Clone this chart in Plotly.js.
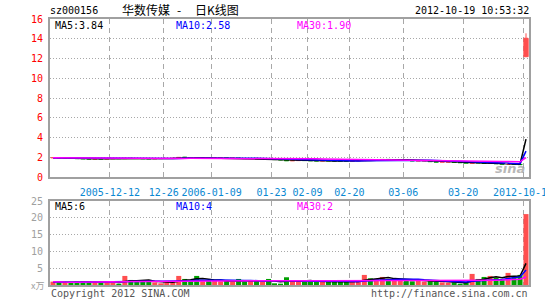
<!DOCTYPE html>
<html>
<head>
<meta charset="utf-8">
<script src="https://cdn.plot.ly/plotly-3.0.1.min.js"></script>
<style>html,body{margin:0;padding:0;background:#fff;}#chart{width:545px;height:300px;}</style>
</head>
<body>
<div id="chart"></div>
<script>
// ---- data ----
const dayIndex = [];
for (let i = 0; i < 80; i++) dayIndex.push(i);

const openPx  = [1.94,1.96,1.92,1.93,1.90,1.86,1.84,1.82,1.84,1.83,
                 1.85,1.87,1.86,1.90,1.88,1.87,1.85,1.84,1.86,1.87,
                 1.89,1.91,2.01,1.97,1.96,1.91,1.93,1.91,1.92,1.93,
                 1.91,1.92,1.88,1.86,1.88,1.86,1.87,1.80,1.76,1.72,
                 1.64,1.66,1.68,1.66,1.64,1.62,1.64,1.63,1.62,1.61,
                 1.60,1.64,1.66,1.74,1.70,1.73,1.78,1.74,1.75,1.76,
                 1.70,1.62,1.63,1.64,1.55,1.50,1.51,1.52,1.47,1.44,
                 1.38,1.44,1.45,1.37,1.40,1.34,1.29,1.33,1.28,12.18];
const highPx  = [1.97,1.97,1.95,1.93,1.90,1.87,1.85,1.85,1.85,1.86,
                 1.88,1.88,1.92,1.91,1.89,1.88,1.86,1.87,1.88,1.90,
                 1.92,2.02,2.03,1.98,1.97,1.94,1.94,1.93,1.94,1.94,
                 1.93,1.92,1.89,1.89,1.89,1.88,1.87,1.80,1.76,1.72,
                 1.68,1.69,1.69,1.67,1.65,1.65,1.65,1.64,1.63,1.62,
                 1.65,1.67,1.76,1.75,1.74,1.79,1.78,1.76,1.77,1.76,
                 1.70,1.64,1.65,1.64,1.55,1.52,1.53,1.52,1.47,1.44,
                 1.46,1.47,1.45,1.42,1.40,1.34,1.35,1.33,1.28,14.55];
const lowPx   = [1.93,1.94,1.91,1.89,1.85,1.83,1.81,1.81,1.82,1.82,
                 1.84,1.85,1.85,1.87,1.86,1.84,1.83,1.83,1.85,1.86,
                 1.88,1.90,1.96,1.94,1.90,1.90,1.90,1.90,1.91,1.90,
                 1.90,1.87,1.85,1.85,1.85,1.85,1.79,1.75,1.71,1.62,
                 1.63,1.65,1.65,1.63,1.61,1.61,1.62,1.61,1.60,1.59,
                 1.59,1.63,1.65,1.69,1.69,1.72,1.73,1.72,1.74,1.69,
                 1.61,1.60,1.62,1.54,1.49,1.48,1.50,1.46,1.43,1.39,
                 1.37,1.42,1.37,1.36,1.33,1.29,1.28,1.27,1.24,12.18];
const closePx = [1.96,1.95,1.93,1.90,1.86,1.84,1.82,1.84,1.83,1.85,
                 1.87,1.86,1.90,1.88,1.87,1.85,1.84,1.86,1.87,1.89,
                 1.91,1.99,1.97,1.95,1.91,1.93,1.91,1.92,1.93,1.91,
                 1.92,1.88,1.86,1.88,1.86,1.87,1.80,1.76,1.72,1.64,
                 1.66,1.68,1.66,1.64,1.62,1.64,1.63,1.62,1.61,1.60,
                 1.64,1.66,1.74,1.70,1.73,1.78,1.74,1.75,1.76,1.70,
                 1.62,1.63,1.64,1.55,1.50,1.51,1.52,1.47,1.44,1.40,
                 1.42,1.43,1.38,1.40,1.34,1.30,1.33,1.28,1.25,14.05];
// volume, in 万 (10k lots)
const volume  = [1.0,0.7,0.9,0.8,1.0,1.2,1.2,1.0,0.8,0.9,
                 0.8,0.4,2.7,1.5,1.0,1.4,0.9,0.8,0.5,1.0,
                 0.9,2.7,1.8,1.3,2.7,1.1,1.3,1.2,1.1,1.2,
                 1.0,1.8,1.0,1.3,1.2,1.0,1.8,0.5,0.4,2.3,
                 1.4,1.0,1.0,1.1,1.0,1.0,0.9,0.9,1.1,0.9,
                 1.2,1.0,3.0,2.0,1.8,2.4,1.8,1.5,1.4,1.2,
                 1.1,1.2,1.0,1.5,0.9,0.8,0.7,0.8,0.4,0.6,
                 3.3,1.8,2.4,2.7,2.2,1.8,3.6,2.7,3.0,21.1];

const tickIdx    = [10,19,27,37,43,50,59,69,79];
const tickLabels = ['2005-12-12','12-26','2006-01-09','01-23','02-09','02-20','03-06','03-20','2012-10-19'];
const priceTicks = [0,2,4,6,8,10,12,14,16];
const volTicks   = [5,10,15,20,25];

const stockCode = 'sz000156';
const titleParts = ['华数传媒', '-', '日K线图'];
const stamp = '2012-10-19 10:53:32';
const priceMA = ['MA5:3.84','MA10:2.58','MA30:1.90'];
const volMA   = ['MA5:6','MA10:4','MA30:2'];

// ---- helpers ----
function movingAvg(arr, n) {
  return arr.map((_, i) => {
    const s = Math.max(0, i - n + 1);
    const seg = arr.slice(s, i + 1);
    return seg.reduce((a, b) => a + b, 0) / seg.length;
  });
}
const RED = '#ff4f4f', GREEN = '#00a000';
const isUp = closePx.map((c, i) => c >= openPx[i]);
const dayColors = isUp.map(u => u ? RED : GREEN);
const maColors = ['#000000', '#0000ff', '#ff00ff'];
const maN = [5, 10, 30];

const traces = [];
// wicks (high-low), one trace per colour
[true, false].forEach(up => {
  const wx = [], wy = [];
  dayIndex.forEach(i => {
    if (isUp[i] === up) { wx.push(i, i, null); wy.push(lowPx[i], highPx[i], null); }
  });
  traces.push({type: 'scatter', mode: 'lines', x: wx, y: wy, xaxis: 'x', yaxis: 'y',
    hoverinfo: 'skip', line: {color: up ? RED : GREEN, width: 1}});
});
// bodies (open-close)
traces.push({
  type: 'bar', x: dayIndex, base: openPx.map((o, i) => Math.min(o, closePx[i])),
  y: openPx.map((o, i) => Math.abs(closePx[i] - o)), width: 0.72,
  xaxis: 'x', yaxis: 'y', hoverinfo: 'skip',
  marker: {color: dayColors, line: {color: dayColors, width: 1}}
});
maN.forEach((n, k) => traces.push({
  type: 'scatter', mode: 'lines', x: dayIndex, y: movingAvg(closePx, n),
  xaxis: 'x', yaxis: 'y', hoverinfo: 'skip', line: {color: maColors[k], width: 1.5}
}));
traces.push({
  type: 'bar', x: dayIndex, y: volume, width: 0.84, xaxis: 'x2', yaxis: 'y2', hoverinfo: 'skip',
  marker: {color: dayColors, line: {width: 0}}
});
maN.forEach((n, k) => traces.push({
  type: 'scatter', mode: 'lines', x: dayIndex, y: movingAvg(volume, n),
  xaxis: 'x2', yaxis: 'y2', hoverinfo: 'skip', line: {color: maColors[k], width: 1.5}
}));

const W = 545, H = 300;
const px = v => v / W, py = v => 1 - v / H;
const MONO = 'DejaVu Sans Mono';
const xr = [-0.5, 79.5];
const tickPos = tickIdx.map(i => i - 0.5);
const frame = {showline: true, mirror: true, linecolor: '#a0a0a0', linewidth: 2, zeroline: false, fixedrange: true};

const layout = {
  width: W, height: H, margin: {l: 0, r: 0, t: 0, b: 0},
  paper_bgcolor: '#ffffff', plot_bgcolor: '#ffffff', showlegend: false,
  font: {family: MONO, size: 10, color: '#000'},
  barmode: 'overlay',
  xaxis: Object.assign({}, frame, {
    domain: [px(50), px(529)], anchor: 'y', range: xr,
    tickmode: 'array', tickvals: tickPos, ticktext: tickLabels, ticks: '', ticklabelstandoff: 5,
    ticklabeloverflow: 'allow',
    tickfont: {family: MONO, size: 10, color: '#0a88d2'},
    showgrid: true, gridcolor: '#a8a8a8', griddash: '5px,4px', gridwidth: 1
  }),
  xaxis2: Object.assign({}, frame, {
    domain: [px(50), px(529)], anchor: 'y2', matches: 'x', range: xr,
    tickmode: 'array', tickvals: tickPos, showticklabels: false, ticks: '',
    showgrid: true, gridcolor: '#a8a8a8', griddash: '5px,4px', gridwidth: 1
  }),
  yaxis: Object.assign({}, frame, {
    domain: [py(177), py(19)], anchor: 'x', range: [0, 16],
    tickmode: 'array', tickvals: priceTicks, ticks: '', ticklabelstandoff: 3,
    tickfont: {family: MONO, size: 10, color: '#ff0000'},
    showgrid: true, gridcolor: '#a8a8a8', griddash: '1px,2px', gridwidth: 1
  }),
  yaxis2: Object.assign({}, frame, {
    domain: [py(285), py(201)], anchor: 'x2', range: [0, 25],
    tickmode: 'array', tickvals: volTicks, ticks: '', ticklabelstandoff: 3,
    tickfont: {family: MONO, size: 10, color: '#a0a0a0'},
    showgrid: true, gridcolor: '#a8a8a8', griddash: '1px,2px', gridwidth: 1
  }),
  annotations: []
};

function txt(t, x, y, color, anchor, fam, size) {
  layout.annotations.push({
    text: t, x: px(x), y: py(y), xref: 'paper', yref: 'paper', showarrow: false,
    xanchor: anchor, yanchor: 'middle', font: {family: fam || MONO, size: size || 10, color: color}
  });
  return layout.annotations[layout.annotations.length - 1];
}
txt(stockCode, 48, 11, '#000', 'left');
const CJK = 'Noto Sans CJK SC';
txt(titleParts[0], 120, 10, '#000', 'left', CJK, 12);
txt(titleParts[1], 179, 10, '#000', 'center', CJK, 12);
txt(titleParts[2], 193, 10, '#000', 'left', CJK, 12);
txt(stamp, 531, 11, '#000', 'right');
const maX = [53, 174, 295];
priceMA.forEach((t, k) => txt(t, maX[k], 25, maColors[k], 'left'));
volMA.forEach((t, k) => txt(t, maX[k], 207, maColors[k], 'left'));
txt('x万', 29, 285, '#a0a0a0', 'left', CJK, 9);
txt('Copyright 2012 SINA.COM', 49, 293, '#555555', 'left');
txt('http://finance.sina.com.cn', 530, 293, '#555555', 'right');
const wm = txt('sina', 510, 168, 'rgba(160,160,160,0.75)', 'center', 'DejaVu Sans', 13);
wm.font.weight = 'bold';
wm.font.style = 'italic';

Plotly.newPlot('chart', traces, layout, {staticPlot: true, displayModeBar: false});
</script>
</body>
</html>
